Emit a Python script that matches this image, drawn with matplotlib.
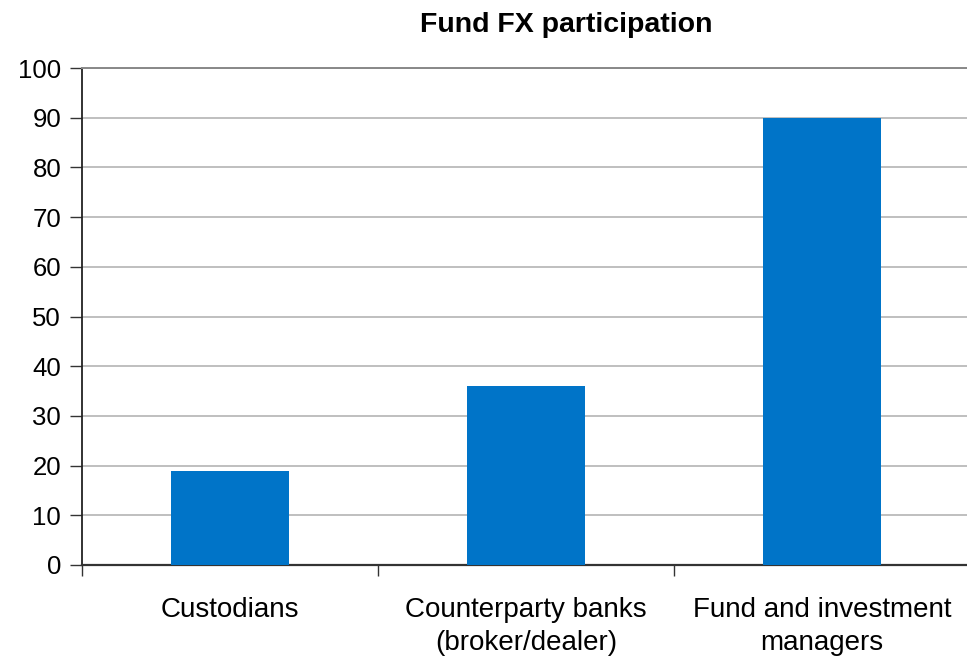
import matplotlib
matplotlib.use("Agg")
import matplotlib.pyplot as plt

categories = ["Custodians", "Counterparty banks\n(broker/dealer)", "Fund and investment\nmanagers"]
values = [19, 36, 90]
yticks = [0, 10, 20, 30, 40, 50, 60, 70, 80, 90, 100]

plt.rcParams["font.family"] = ["Liberation Sans", "DejaVu Sans"]

W, H = 967, 658
fig = plt.figure(figsize=(W / 100, H / 100), dpi=100)
left, right, top, bottom = 82, 970, 68, 565
ax = fig.add_axes([left / W, 1 - bottom / H, (right - left) / W, (bottom - top) / H])

x = range(len(categories))
ax.bar(x, values, width=0.4, color="#0074C8", zorder=3)

ax.set_xlim(-0.5, len(categories) - 0.5)
ax.set_ylim(0, 100)
ax.set_yticks(yticks)
ax.set_yticklabels([str(v) for v in yticks], fontsize=18.5)
ax.yaxis.grid(True, color="#b4b4b4", linewidth=1.2, zorder=0)
ax.set_axisbelow(True)

ax.set_xticks([i + 0.5 for i in range(-1, len(categories))])
ax.set_xticklabels([])
ax.set_xticks(list(x), minor=True)
ax.set_xticklabels(categories, minor=True, fontsize=20, linespacing=1.35)
ax.tick_params(axis="x", which="major", direction="out", length=8, width=1, color="#333333")
ax.tick_params(axis="x", which="minor", length=0, pad=23)
ax.tick_params(axis="y", direction="out", length=9, width=1, color="#333333", pad=6)

ax.spines["left"].set_color("#222222")
ax.spines["left"].set_linewidth(1.3)
ax.spines["bottom"].set_color("#333333")
ax.spines["bottom"].set_linewidth(1.6)
ax.spines["top"].set_color("#888888")
ax.spines["top"].set_linewidth(1.4)
ax.spines["right"].set_visible(False)

fig.text(566 / W, 1 - 25 / H, "Fund FX participation", ha="center", va="center",
         fontsize=20.5, fontweight="bold")

fig.savefig("out.png", dpi=100)
